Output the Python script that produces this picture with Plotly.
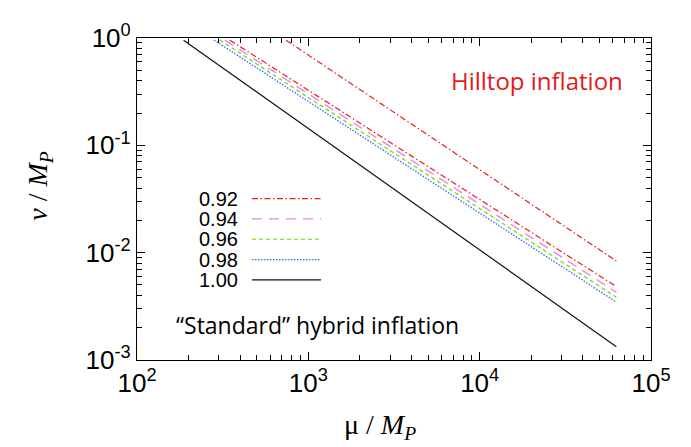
import plotly.graph_objects as go

# ---- data (start / end of each curve) ----
legend_labels = ["0.92", "0.94", "0.96", "0.98", "1.00"]

mu_092_upper = [741, 62800]
v_092_upper = [0.955, 8.36e-3]

mu_092 = [348, 62800]
v_092 = [0.955, 4.83e-3]

mu_094 = [326, 62800]
v_094 = [0.955, 4.27e-3]

mu_096 = [305, 62800]
v_096 = [0.955, 3.85e-3]

mu_098 = [282, 62800]
v_098 = [0.955, 3.46e-3]

mu_100 = [187, 62800]
v_100 = [0.955, 1.33e-3]

x_tickvals = [1e2, 1e3, 1e4, 1e5]
x_ticktext = ["10<sup>2</sup>", "10<sup>3</sup>", "10<sup>4</sup>", "10<sup>5</sup>"]
y_tickvals = [1e-3, 1e-2, 1e-1, 1e0]
y_ticktext = ["10<sup>-3</sup>", "10<sup>-2</sup>", "10<sup>-1</sup>", "10<sup>0</sup>"]

# ---- styles ----
W, H = 691, 447
L, R, T, B = 129, 48, 12, 95
pw, ph = W - L - R, H - T - B

styles = {
    "0.92": dict(color="#ee1c1c", dash="6px,2.5px,1.5px,2.5px", width=1.2),
    "0.94": dict(color="#ee82ee", dash="10px,7px", width=1.4),
    "0.96": dict(color="#66dd00", dash="4px,3px", width=1.2),
    "0.98": dict(color="#3366ff", dash="1.5px,1.5px", width=1.3),
    "1.00": dict(color="#111111", dash="solid", width=1.2),
}

series = [
    ("0.92", mu_092_upper, v_092_upper),
    ("0.92", mu_092, v_092),
    ("0.94", mu_094, v_094),
    ("0.96", mu_096, v_096),
    ("0.98", mu_098, v_098),
    ("1.00", mu_100, v_100),
]

fig = go.Figure()
for name, xs, ys in series:
    fig.add_trace(go.Scatter(x=xs, y=ys, mode="lines", name=name,
                             line=styles[name], showlegend=False))

def px_x(p):
    return (p - L) / pw

def px_y(p):
    return (H - B - p) / ph

# manual legend (text left, sample right)
leg_y0 = 181.5
leg_dy = 21.5
shapes = []
annotations = []
for i, name in enumerate(legend_labels):
    yy = px_y(leg_y0 + i * leg_dy)
    st = styles[name]
    shapes.append(dict(type="line", xref="paper", yref="paper",
                       x0=px_x(244), x1=px_x(313), y0=yy, y1=yy,
                       line=dict(color=st["color"], dash=st["dash"], width=st["width"])))
    annotations.append(dict(text=name, xref="paper", yref="paper",
                            x=px_x(231), y=yy, xanchor="right", yanchor="middle",
                            showarrow=False, borderpad=0,
                            font=dict(family="Liberation Sans", size=20, color="black")))

annotations.append(dict(text="Hilltop inflation", xref="paper", yref="paper",
                        x=px_x(529), y=px_y(57), xanchor="center", yanchor="middle",
                        showarrow=False,
                        font=dict(family="Open Sans", size=24, color="#e41a1a")))
annotations.append(dict(text="\u201cStandard\u201d hybrid inflation", xref="paper", yref="paper",
                        x=px_x(309), y=px_y(315), xanchor="center", yanchor="middle",
                        showarrow=False,
                        font=dict(family="Open Sans", size=23, color="black")))
# axis titles
annotations.append(dict(text="\u03bc / <i>M<sub>P</sub></i>", xref="paper", yref="paper",
                        x=px_x(372), y=px_y(422), xanchor="center", yanchor="middle",
                        showarrow=False,
                        font=dict(family="Liberation Serif", size=28, color="black")))
annotations.append(dict(text="<i>\u03bd</i> / <i>M<sub>P</sub></i>", xref="paper", yref="paper",
                        x=px_x(32), y=px_y(168), xanchor="center", yanchor="middle",
                        textangle=-90, showarrow=False,
                        font=dict(family="Liberation Serif", size=28, color="black")))

x_minor = [k * 10 ** n for n in range(2, 5) for k in range(2, 10)]
y_minor = [k * 10.0 ** n for n in range(-3, 0) for k in range(2, 10)]

axis_common = dict(showline=True, linecolor="black", linewidth=1.2, mirror="allticks",
                   ticks="inside", ticklen=8, tickwidth=1.2, tickcolor="black",
                   showgrid=False, zeroline=False, ticklabeloverflow="allow",
                   tickfont=dict(family="Liberation Sans", size=26, color="black"))

fig.update_layout(
    width=W, height=H,
    margin=dict(l=L, r=R, t=T, b=B),
    paper_bgcolor="white", plot_bgcolor="white",
    xaxis=dict(type="log", range=[2, 5], tickmode="array", tickvals=x_tickvals,
               ticktext=x_ticktext,
               minor=dict(tickmode="array", tickvals=x_minor, ticks="inside", ticklen=4.5,
                          tickwidth=1, tickcolor="black", showgrid=False),
               **axis_common),
    yaxis=dict(type="log", range=[-3, 0], tickmode="array", tickvals=y_tickvals,
               ticktext=y_ticktext,
               minor=dict(tickmode="array", tickvals=y_minor, ticks="inside", ticklen=4.5,
                          tickwidth=1, tickcolor="black", showgrid=False),
               **axis_common),
    shapes=shapes,
    annotations=annotations,
)

fig.write_html("out.html")
